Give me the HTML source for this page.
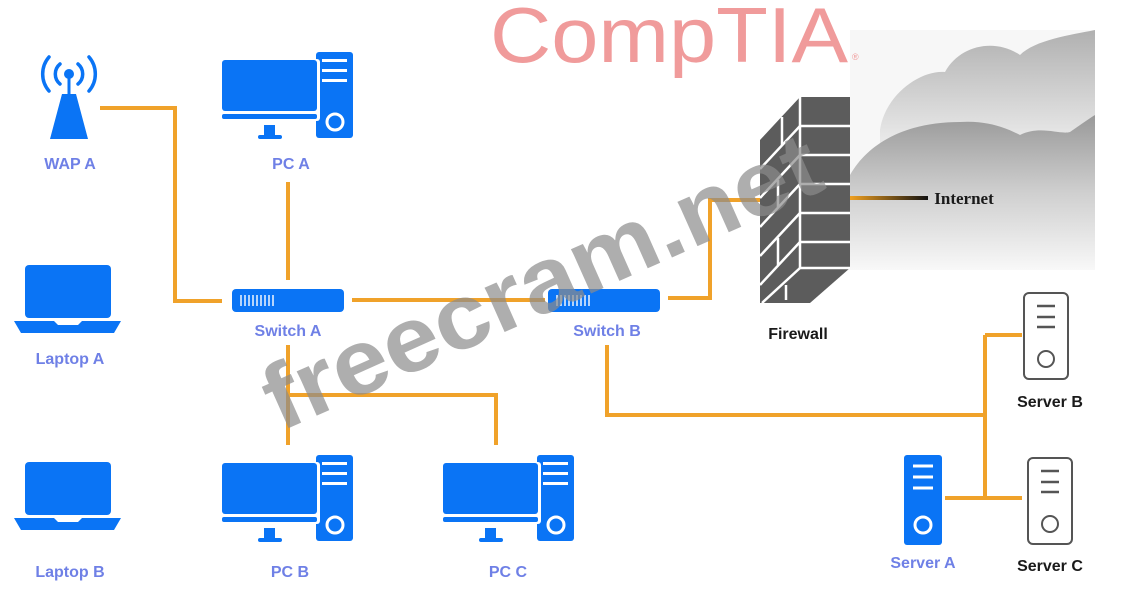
<!DOCTYPE html>
<html><head><meta charset="utf-8"><style>
html,body{margin:0;padding:0;background:#fff;width:1123px;height:607px;overflow:hidden}
svg{display:block}
.l{font-family:"Liberation Sans",sans-serif;font-weight:bold;font-size:16px;fill:#6f80e6;text-anchor:middle}
.k{font-family:"Liberation Sans",sans-serif;font-weight:bold;font-size:16px;fill:#1a1a1a;text-anchor:middle}
</style></head><body>
<svg width="1123" height="607" viewBox="0 0 1123 607" xmlns="http://www.w3.org/2000/svg">
<defs>
<linearGradient id="cg" x1="0" y1="0" x2="0" y2="1">
<stop offset="0" stop-color="#b0b0b0"/><stop offset="1" stop-color="#eeeeee"/></linearGradient>
<linearGradient id="cg2" x1="0" y1="0" x2="0" y2="1">
<stop offset="0" stop-color="#999"/><stop offset="0.5" stop-color="#cfcfcf"/><stop offset="1" stop-color="#f8f8f8"/></linearGradient>
<linearGradient id="ig" x1="0" x2="1"><stop offset="0" stop-color="#f0a020"/><stop offset="1" stop-color="#111"/></linearGradient>
<g id="pc">
<rect x="94" y="-8" width="37" height="86" rx="3" fill="#0a74f5"/>
<rect x="100" y="-1" width="25" height="3" fill="#fff"/>
<rect x="100" y="9" width="25" height="3" fill="#fff"/>
<rect x="100" y="19" width="25" height="3" fill="#fff"/>
<circle cx="113" cy="62" r="8" fill="none" stroke="#fff" stroke-width="3"/>
<rect x="-1" y="-1" width="99" height="62" rx="3" fill="#fff"/>
<rect x="0" y="0" width="95" height="51" rx="3" fill="#0a74f5"/>
<rect x="0" y="54" width="95" height="5" rx="2" fill="#0a74f5"/>
<rect x="42" y="65" width="11" height="12" fill="#0a74f5"/>
<rect x="36" y="75" width="24" height="4" rx="2" fill="#0a74f5"/>
</g>
<g id="lap">
<rect x="25" y="0" width="86" height="53" rx="4" fill="#0a74f5"/>
<path d="M14 56 H54 L58 60 H78 L82 56 H121 L114 68 H21 Z" fill="#0a74f5"/>
</g>
<g id="sw">
<rect x="0" y="0" width="112" height="23" rx="4" fill="#0a74f5"/>
<g stroke="#fff" stroke-width="1.4">
<line x1="9" y1="6" x2="9" y2="17"/><line x1="13" y1="6" x2="13" y2="17"/><line x1="17" y1="6" x2="17" y2="17"/><line x1="21" y1="6" x2="21" y2="17"/><line x1="25" y1="6" x2="25" y2="17"/><line x1="29" y1="6" x2="29" y2="17"/><line x1="33" y1="6" x2="33" y2="17"/><line x1="37" y1="6" x2="37" y2="17"/><line x1="41" y1="6" x2="41" y2="17"/>
</g></g>
<g id="srv">
<rect x="0" y="0" width="44" height="86" rx="5" fill="#fff" stroke="#555" stroke-width="2"/>
<g stroke="#555" stroke-width="2.5"><line x1="13" y1="13" x2="31" y2="13"/><line x1="13" y1="24" x2="31" y2="24"/><line x1="13" y1="34" x2="31" y2="34"/></g>
<circle cx="22" cy="66" r="8" fill="none" stroke="#555" stroke-width="2"/>
</g>
</defs>

<!-- cloud -->
<rect x="850" y="30" width="245" height="240" fill="#f7f7f7"/>
<path d="M880 130 C 885 95, 920 70, 945 72 C 960 45, 995 38, 1020 55 C 1035 40, 1070 35, 1095 30 V150 H880 Z" fill="url(#cg)"/>
<path d="M850 175 C 870 140, 910 122, 960 122 C 990 120, 1010 130, 1020 135 C 1040 125, 1060 135, 1070 132 C 1080 125, 1090 118, 1095 115 V270 H850 Z" fill="url(#cg2)"/>

<!-- CompTIA -->
<text x="490" y="62" font-family="Liberation Sans,sans-serif" font-size="78" fill="#f09b9b" textLength="358" lengthAdjust="spacingAndGlyphs">CompTIA</text>
<text x="852" y="60" font-family="Liberation Sans,sans-serif" font-size="9" fill="#f09b9b">®</text>

<!-- lines -->
<g stroke="#f0a22a" stroke-width="4" fill="none">
<path d="M100 108 H175 V301 H222"/>
<path d="M288 182 V280"/>
<path d="M352 300 H545"/>
<path d="M668 298 H710 V200 H760"/>
<path d="M288 345 V445"/>
<path d="M288 395 H496 V445"/>
<path d="M607 345 V415 H985"/>
<path d="M985 335 V498"/>
<path d="M985 335 H1022"/>
<path d="M945 498 H1022"/>
</g>
<rect x="850" y="196" width="78" height="4" fill="url(#ig)"/>

<!-- WAP -->
<g fill="#0a74f5">
<circle cx="69" cy="74" r="5"/>
<rect x="67.5" y="74" width="3" height="22"/>
<path d="M62 94 H76 L88 139 H50 Z"/>
</g>
<g stroke="#0a74f5" stroke-width="3.5" fill="none" stroke-linecap="round">
<path d="M60 64 A13 13 0 0 0 60 84"/><path d="M78 64 A13 13 0 0 1 78 84"/>
<path d="M49 57 A26 26 0 0 0 49 91"/><path d="M89 57 A26 26 0 0 1 89 91"/>
</g>

<use href="#pc" x="222" y="60"/>
<use href="#pc" x="222" y="463"/>
<use href="#pc" x="443" y="463"/>
<use href="#lap" x="0" y="265"/>
<use href="#lap" x="0" y="462"/>
<use href="#sw" x="232" y="289"/>
<use href="#sw" x="548" y="289"/>

<!-- firewall -->
<polygon points="760,140 800,97 850,97 850,268 810,303 760,303" fill="#5c5c5c"/>
<g stroke="#fff" stroke-width="2.5" fill="none">
<line x1="800" y1="97" x2="800" y2="268"/>
<line x1="800" y1="268" x2="850" y2="268"/>
<line x1="800" y1="268" x2="762" y2="303"/>
<line x1="800" y1="126" x2="850" y2="126"/><line x1="800" y1="155" x2="850" y2="155"/>
<line x1="800" y1="184" x2="850" y2="184"/><line x1="800" y1="213" x2="850" y2="213"/>
<line x1="800" y1="242" x2="850" y2="242"/>
<line x1="800" y1="126" x2="760" y2="169"/><line x1="800" y1="155" x2="760" y2="198"/>
<line x1="800" y1="184" x2="760" y2="227"/><line x1="800" y1="213" x2="760" y2="256"/>
<line x1="800" y1="242" x2="760" y2="285"/>
<line x1="782" y1="117" x2="782" y2="145"/><line x1="778" y1="180" x2="778" y2="207"/>
<line x1="778" y1="238" x2="778" y2="265"/><line x1="786" y1="285" x2="786" y2="300"/>
</g>

<!-- servers -->
<use href="#srv" x="1024" y="293"/>
<use href="#srv" x="1028" y="458"/>
<rect x="904" y="455" width="38" height="90" rx="3" fill="#0a74f5"/>
<g stroke="#fff" stroke-width="3"><line x1="913" y1="466" x2="933" y2="466"/><line x1="913" y1="477" x2="933" y2="477"/><line x1="913" y1="488" x2="933" y2="488"/></g>
<circle cx="923" cy="525" r="8" fill="none" stroke="#fff" stroke-width="3"/>

<!-- labels -->
<text class="l" x="70" y="169">WAP A</text>
<text class="l" x="291" y="169">PC A</text>
<text class="l" x="70" y="364">Laptop A</text>
<text class="l" x="288" y="336">Switch A</text>
<text class="l" x="607" y="336">Switch B</text>
<text class="l" x="70" y="577">Laptop B</text>
<text class="l" x="290" y="577">PC B</text>
<text class="l" x="508" y="577">PC C</text>
<text class="l" x="923" y="568">Server A</text>
<text class="k" x="798" y="339">Firewall</text>
<text class="k" x="1050" y="407">Server B</text>
<text class="k" x="1050" y="571">Server C</text>
<text class="k" x="964" y="204" style="font-family:'Liberation Serif',serif;font-size:17px">Internet</text>

<!-- watermark -->
<text x="280" y="432" transform="rotate(-24 280 432)" font-family="Liberation Sans,sans-serif" font-weight="bold" font-size="92" fill="#8c8c8c" fill-opacity="0.7" textLength="600" lengthAdjust="spacingAndGlyphs">freecram.net</text>
</svg>
</body></html>
